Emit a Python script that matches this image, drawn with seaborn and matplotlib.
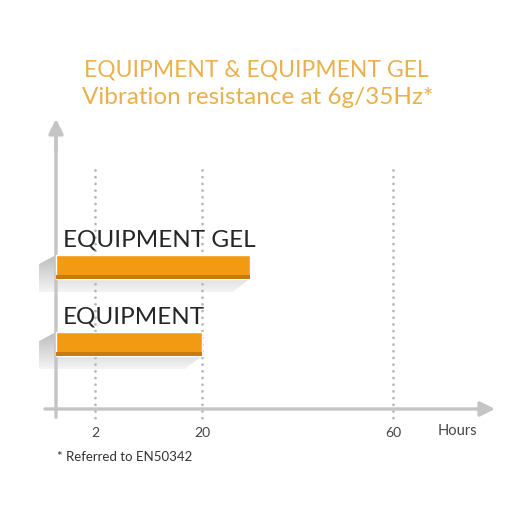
import numpy as np
import pandas as pd
import matplotlib
matplotlib.use("Agg")
import matplotlib.pyplot as plt
from matplotlib.patches import Polygon, Rectangle
from matplotlib.colors import LinearSegmentedColormap
import seaborn as sns

W, H = 527, 509
ORANGE = "#F39A13"
ORANGE_DARK = "#C97A10"
GOLD = "#E9B14E"
AXIS_GREY = "#C4C4C4"
DOT_GREY = "#B5B5B5"

# ── data ──────────────────────────────────────────────────────────────────────
products = ["EQUIPMENT GEL", "EQUIPMENT"]
hours = [30, 20]
tick_hours = [2, 20, 60]
# the original hour axis is not drawn to scale: piecewise mapping hours -> px
scale_hours = [-10, 0, 2, 20, 60, 200]
scale_px = [-195, 0, 39, 146, 337, 337 + 140 * 4.775]

def fwd(h):
    return np.interp(h, scale_hours, scale_px)

def inv(p):
    return np.interp(p, scale_px, scale_hours)

df = pd.DataFrame({"product": products, "hours": hours})

sns.set_theme(style="white")
plt.rcParams["font.family"] = ["Lato", "DejaVu Sans"]

fig = plt.figure(figsize=(W / 100, H / 100), dpi=100)
fig.patch.set_facecolor("white")
ax = fig.add_axes([45 / W, (H - 420) / H, 450 / W, 295 / H])
ax.patch.set_alpha(0)

sns.barplot(data=df, y="product", x="hours", orient="h", color=ORANGE,
            width=0.31, saturation=1, ax=ax)
ax.set_xscale("function", functions=(fwd, inv))
ax.set_xlim(inv(-11), inv(439))
ax.set_ylim(1.987, -1.844)
for s in ax.spines.values():
    s.set_visible(False)
ax.set_xlabel("")
ax.set_ylabel("")
ax.set_yticks([])
ax.set_xticks(tick_hours)
ax.set_xticklabels([str(t) for t in tick_hours], fontsize=10, color="#444444")
ax.tick_params(axis="x", length=0, pad=5)
ax.minorticks_off()

# dotted guide lines
ax.vlines(tick_hours, -1.26, 1.99, colors=DOT_GREY, lw=2,
          linestyles=(0, (0.01, 2.4)), capstyle="round", zorder=0)

bars = list(ax.patches)
band = 0.045
for bar, label in zip(bars, products):
    ax.add_patch(Rectangle((bar.get_x(), bar.get_y() + bar.get_height() - band),
                           bar.get_width(), band, color=ORANGE_DARK, lw=0, zorder=3))
    bar.set_zorder(2)
    ax.annotate(label, xy=(0, bar.get_y()), xytext=(5, 3), textcoords="offset points",
                ha="left", va="bottom", fontsize=17.5, color="#262626", zorder=5)

# axes with arrows
ax.annotate("", xy=(0, 0), xytext=(0, 1), xycoords=("data", "axes fraction"),
            textcoords=("data", "axes fraction"),
            arrowprops=dict(arrowstyle="-", color=AXIS_GREY, lw=2.4), zorder=1)
ax.annotate("", xy=(0, 1.03), xytext=(0, 0.9), xycoords=("data", "axes fraction"),
            textcoords=("data", "axes fraction"),
            arrowprops=dict(arrowstyle="-|>", color=AXIS_GREY, lw=2.4,
                            mutation_scale=22), zorder=1)
ax.annotate("", xy=(1, 1.844), xytext=(0, 1.844), xycoords=("axes fraction", "data"),
            textcoords=("axes fraction", "data"),
            arrowprops=dict(arrowstyle="-|>", color=AXIS_GREY, lw=2.4,
                            mutation_scale=22, shrinkA=0, shrinkB=0), zorder=1)

# soft shadows behind bars (pixel space overlay underneath)
bg = fig.add_axes([0, 0, 1, 1], zorder=-1)
bg.set_xlim(0, W)
bg.set_ylim(H, 0)
bg.axis("off")
fig.canvas.draw()
cmap = LinearSegmentedColormap.from_list("sh", ["#BDBDBD", "#F4F4F4"])
grad = np.linspace(0, 1, 64).reshape(-1, 1)
for bar in bars:
    x0, y0, x1, y1 = bar.get_window_extent().extents
    top, bot = H - y1, H - y0
    dx, dy = 17, 13
    pts = [(x0, top), (x0 - dx, top + 9), (x0 - dx, bot + dy),
           (x1 - dx, bot + dy), (x1, bot), (x1, top)]
    poly = Polygon(pts, closed=True, facecolor="none", edgecolor="none")
    bg.add_patch(poly)
    im = bg.imshow(grad, cmap=cmap, aspect="auto",
                   extent=(x0 - dx, x1, bot + dy, top), interpolation="bilinear")
    im.set_clip_path(poly)

# titles and notes
fig.text(256 / W, 1 - 70 / H, "EQUIPMENT & EQUIPMENT GEL", ha="center", va="center",
         fontsize=16.5, color=GOLD)
fig.text(258 / W, 1 - 97 / H, "Vibration resistance at 6g/35Hz*", ha="center",
         va="center", fontsize=17.5, color=GOLD)
fig.text(457 / W, 1 - 431 / H, "Hours", ha="center", va="center", fontsize=10.5,
         color="#444444")
fig.text(57 / W, 1 - 457 / H, "* Referred to EN50342", ha="left", va="center",
         fontsize=9.5, color="#333333")

fig.savefig("out.png", dpi=100)
